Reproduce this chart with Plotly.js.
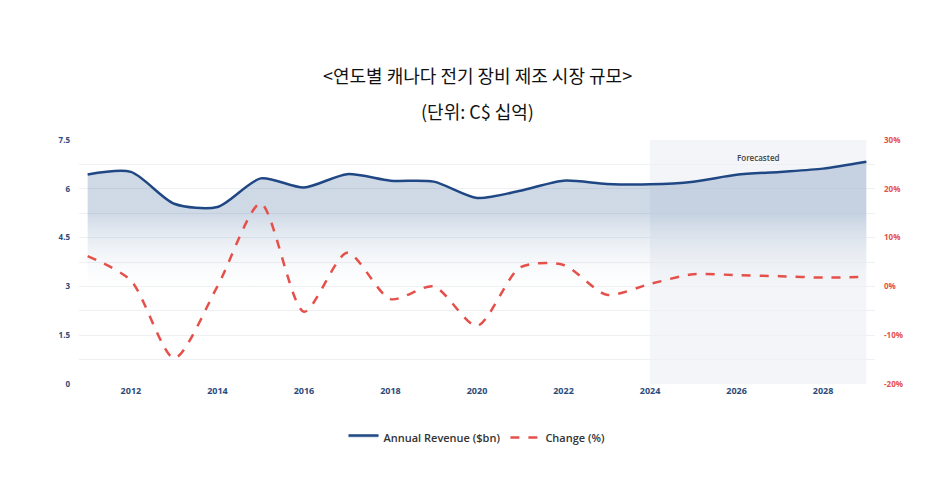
<!DOCTYPE html>
<html><head><meta charset="utf-8">
<script src="https://cdn.plot.ly/plotly-3.0.1.min.js"></script>
<style>body{margin:0;background:#fff}#c{width:942px;height:484px}</style>
</head><body><div id="c"></div>
<script>
const years = [2011,2012,2013,2014,2015,2016,2017,2018,2019,2020,2021,2022,2023,2024,2025,2026,2027,2028,2029];
const revenue = [6.44,6.52,5.54,5.44,6.32,6.04,6.45,6.25,6.22,5.72,5.94,6.25,6.15,6.14,6.22,6.43,6.52,6.62,6.83];
const changePct = [6.2,1.2,-14.7,0.0,17.0,-5.2,6.9,-2.6,0.0,-8.1,3.9,4.4,-1.7,0.5,2.5,2.3,2.1,1.8,2.0];
const forecastStart = 2024, forecastEnd = 2029;
const yTicks = [0,1.5,3,4.5,6,7.5];
const y2Ticks = [-20,-10,0,10,20,30];

const tickFont = {family:'"Open Sans", sans-serif', size:8, color:'#2d4a7a', weight:700};
const traces = [
  {x:years, y:revenue, name:'Annual Revenue ($bn)', type:'scatter', mode:'lines',
   line:{color:'#1f4784', width:2.5, shape:'spline', smoothing:0.75},
   fill:'tozeroy',
   fillgradient:{type:'vertical', start:0, stop:7,
     colorscale:[[0,'rgba(255,255,255,0)'],[0.38,'rgba(255,255,255,0)'],[0.75,'rgba(70,110,160,0.26)'],[1,'rgba(70,110,160,0.26)']]},
   hoverinfo:'skip'},
  {x:years, y:changePct, name:'Change (%)', type:'scatter', mode:'lines', yaxis:'y2',
   line:{color:'#e5504b', width:2.5, dash:'dash', shape:'spline', smoothing:0.75},
   hoverinfo:'skip'}
];
const layout = {
  width:942, height:484,
  margin:{l:79, r:67, t:140, b:100},
  paper_bgcolor:'#fff', plot_bgcolor:'rgba(0,0,0,0)',
  showlegend:true,
  legend:{orientation:'h', x:0.5, xanchor:'center', y:-0.16, yanchor:'top',
    font:{family:'"Open Sans", sans-serif', size:11, color:'#333', weight:600}, itemwidth:30},
  xaxis:{range:[2010.8,2029.2], tickmode:'array', tickvals:[2012,2014,2016,2018,2020,2022,2024,2026,2028],
    ticktext:['2012','2014','2016','2018','2020','2022','2024','2026','2028'],
    showgrid:false, zeroline:false, showline:false, ticks:'', tickfont:{...tickFont, size:9}},
  yaxis:{range:[0,7.5], tickmode:'array', tickvals:yTicks, ticktext:yTicks.map(String),
    showgrid:true, gridcolor:'#eef0f3', gridwidth:1, zeroline:false, showline:false, ticks:'',
    minor:{tickmode:'array', tickvals:[0.75,2.25,3.75,5.25,6.75], showgrid:true, gridcolor:'#eef0f3'},
    tickfont:tickFont, ticklabelstandoff:8},
  yaxis2:{range:[-20,30], overlaying:'y', side:'right', tickmode:'array', tickvals:y2Ticks,
    ticktext:y2Ticks.map(v=>v+'%'), showgrid:false, zeroline:false, showline:false, ticks:'',
    tickfont:{...tickFont, color:'#e5504b'}, ticklabelstandoff:8},
  shapes:[{type:'rect', xref:'x', yref:'paper', x0:forecastStart, x1:forecastEnd, y0:0, y1:1,
    fillcolor:'#f3f5f8', line:{width:0}, layer:'below'}],
  annotations:[
    {text:'Forecasted', xref:'x', yref:'paper', x:(forecastStart+forecastEnd)/2, y:0.96, showarrow:false,
     font:{family:'"Open Sans", sans-serif', size:8, color:'#444', weight:600}},
    {text:'<연도별 캐나다 전기 장비 제조 시장 규모>', xref:'paper', yref:'paper', x:0.5, y:1, yshift:80, showarrow:false,
     font:{family:'"Noto Sans CJK KR", sans-serif', size:18, color:'#111'}},
    {text:'(단위: C$ 십억)', xref:'paper', yref:'paper', x:0.5, y:1, yshift:44, showarrow:false,
     font:{family:'"Noto Sans CJK KR", sans-serif', size:18, color:'#111'}}
  ]
};
Plotly.newPlot('c', traces, layout, {displayModeBar:false, staticPlot:true});
</script></body></html>
